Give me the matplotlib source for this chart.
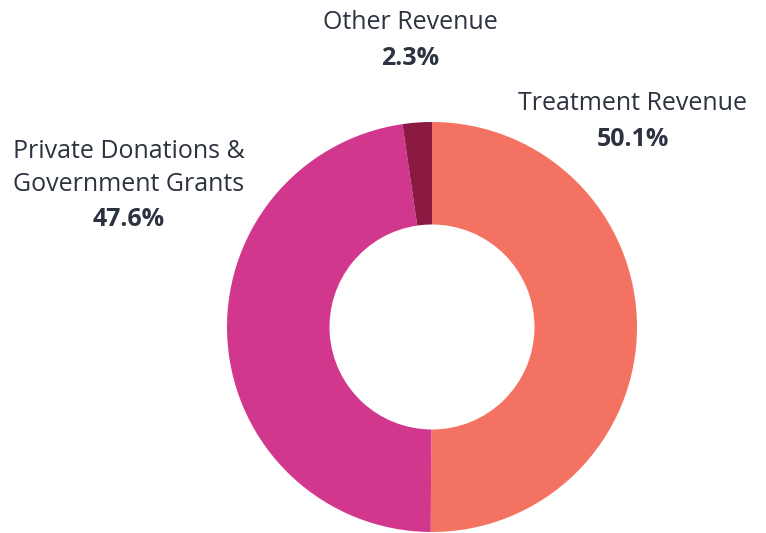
import matplotlib
matplotlib.use("Agg")
import matplotlib.pyplot as plt

labels = ["Treatment Revenue", "Private Donations &\nGovernment Grants", "Other Revenue"]
shares = [50.1, 47.6, 2.3]
colors = ["#f47261", "#d0378d", "#8b1a42"]

plt.rcParams['font.family'] = ['Open Sans', 'DejaVu Sans']
text_color = "#2d3240"

fig = plt.figure(figsize=(7.66, 5.33), dpi=100)
# donut centre at (432, 327) px, radius 205 px
ax = fig.add_axes([(432 - 205) / 766, (206 - 205) / 533, 410 / 766, 410 / 533])
ax.pie(shares, colors=colors, startangle=90, counterclock=False,
       wedgeprops=dict(width=0.5, edgecolor="none"), radius=1.0)
ax.set_xlim(-1, 1)
ax.set_ylim(-1, 1)
ax.set_aspect("equal")
ax.axis("off")

# label positions (data units), name lines then the percentage
label_pos = [(0.98, [1.09], 0.915),
             (-1.48, [0.855, 0.695], 0.525),
             (-0.107, [1.485], 1.31)]

for (x, ys, yp), name, val in zip(label_pos, labels, shares):
    for y, line in zip(ys, name.split("\n")):
        ax.text(x, y, line, ha="center", va="center", fontsize=18,
                color=text_color, clip_on=False)
    ax.text(x, yp, f"{val}%", ha="center", va="center", fontsize=18,
            fontweight="bold", color=text_color, clip_on=False)

fig.savefig("out.png", dpi=100)
